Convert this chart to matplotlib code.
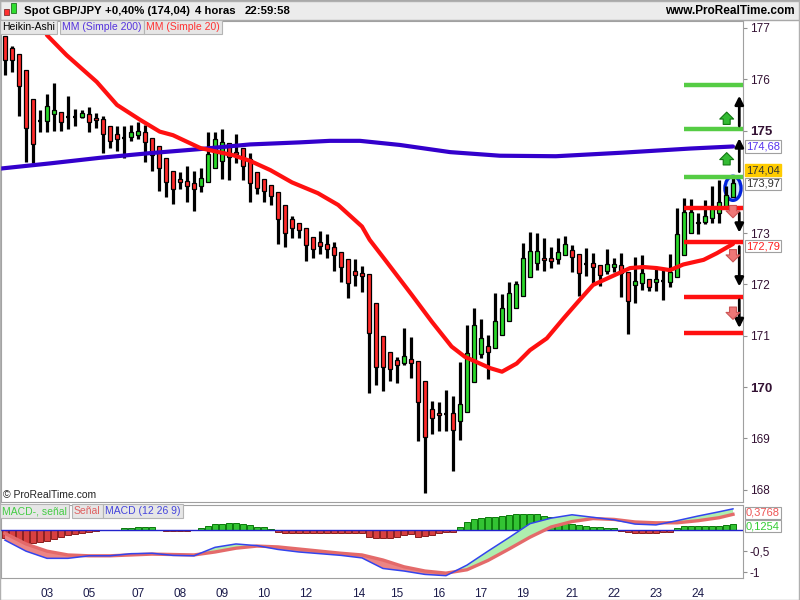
import numpy as np
import matplotlib
matplotlib.use("Agg")
import matplotlib.pyplot as plt
from matplotlib.patches import Rectangle, Ellipse

plt.rcParams['font.family'] = ['Liberation Sans', 'DejaVu Sans']

# Heikin-Ashi candles (4h), one row per bar
opens = [176.85, 176.60, 176.49, 176.18, 175.61, 175.20, 175.19, 175.32, 175.36, 175.28,
         175.28, 175.26, 175.32, 175.24, 175.22, 175.08, 174.93, 174.87, 174.87, 174.91,
         174.97, 174.86, 174.69, 174.47, 174.22, 174.06, 174.02, 173.97, 173.92, 173.99,
         174.27, 174.40, 174.75, 174.59, 174.67, 174.44, 174.20, 174.05, 173.93, 173.81,
         173.54, 173.27, 173.19, 173.11, 172.93, 172.82, 172.78, 172.73, 172.64, 172.49,
         172.26, 172.22, 172.20, 171.63, 171.00, 170.69, 170.53, 170.46, 170.54, 170.50,
         170.11, 169.57, 169.50, 169.49, 169.49, 169.33, 169.52, 170.09, 170.64, 170.80,
         170.76, 171.02, 171.29, 171.55, 171.78, 172.14, 172.41, 172.52, 172.51, 172.49,
         172.58, 172.67, 172.60, 172.42, 172.41, 172.38, 172.27, 172.34, 172.38, 172.25,
         171.99, 172.02, 172.11, 172.04, 172.08, 172.05, 172.15, 172.58, 173.00, 173.19,
         173.21, 173.29, 173.39, 173.52, 173.71]
highs = [176.85, 176.64, 176.49, 176.18, 175.61, 175.40, 175.71, 175.92, 175.36, 175.67,
         175.42, 175.40, 175.45, 175.34, 175.29, 175.08, 175.08, 175.08, 175.11, 175.16,
         175.11, 174.86, 174.69, 174.47, 174.22, 174.20, 174.31, 174.22, 174.27, 174.98,
         174.98, 175.03, 174.75, 174.93, 174.67, 174.56, 174.20, 174.05, 173.93, 173.81,
         173.54, 173.34, 173.19, 173.11, 172.93, 173.04, 172.98, 172.82, 172.64, 172.49,
         172.49, 172.36, 172.20, 171.63, 171.00, 170.69, 170.59, 171.15, 170.97, 170.50,
         170.11, 169.73, 169.70, 169.94, 169.83, 170.48, 171.21, 171.54, 171.33, 171.02,
         171.83, 171.81, 172.04, 172.07, 172.80, 173.02, 173.00, 172.90, 172.73, 172.90,
         172.95, 172.77, 172.60, 172.71, 172.61, 172.38, 172.69, 172.51, 172.61, 172.25,
         172.53, 172.58, 172.11, 172.30, 172.28, 172.59, 173.49, 173.68, 173.67, 173.39,
         173.65, 173.91, 174.04, 173.91, 174.07]
lows = [176.08, 176.15, 175.29, 174.39, 174.36, 174.98, 174.98, 174.99, 174.99, 175.03,
        175.08, 175.24, 174.98, 175.05, 174.57, 174.67, 174.61, 174.47, 174.80, 174.83,
        174.38, 174.22, 173.83, 173.70, 173.56, 173.86, 173.61, 173.44, 173.80, 173.99,
        174.27, 174.05, 174.04, 174.36, 174.04, 173.60, 173.76, 173.61, 173.54, 172.78,
        172.74, 172.91, 172.91, 172.46, 172.52, 172.59, 172.52, 172.27, 172.05, 171.73,
        171.98, 171.85, 169.89, 170.05, 169.93, 170.12, 170.07, 170.43, 170.17, 168.94,
        167.93, 169.08, 169.15, 169.15, 168.37, 168.96, 169.52, 170.09, 170.56, 170.16,
        170.76, 171.02, 171.29, 171.55, 171.78, 172.14, 172.28, 172.27, 172.32, 172.40,
        172.58, 172.24, 171.78, 172.17, 171.99, 171.98, 172.20, 172.24, 171.76, 171.04,
        171.63, 171.89, 171.88, 171.88, 171.70, 171.96, 172.15, 172.58, 173.00, 172.98,
        173.17, 173.19, 173.19, 173.52, 173.71]
closes = [176.38, 176.38, 175.86, 175.06, 174.73, 175.18, 175.48, 175.40, 175.16, 175.26,
          175.26, 175.34, 175.17, 175.20, 174.93, 174.80, 174.83, 174.85, 174.97, 175.00,
          174.77, 174.52, 174.27, 174.00, 173.86, 174.00, 173.91, 173.86, 174.07, 174.54,
          174.83, 174.78, 174.49, 174.54, 174.30, 173.97, 173.89, 173.82, 173.73, 173.27,
          173.00, 173.10, 173.06, 172.77, 172.69, 172.75, 172.69, 172.58, 172.34, 172.02,
          172.19, 172.17, 171.05, 170.39, 170.39, 170.35, 170.43, 170.61, 170.46, 169.70,
          169.03, 169.40, 169.46, 169.47, 169.16, 169.68, 170.66, 171.21, 170.95, 170.69,
          171.29, 171.54, 171.83, 172.00, 172.51, 172.66, 172.66, 172.47, 172.46, 172.64,
          172.79, 172.53, 172.22, 172.40, 172.34, 172.19, 172.39, 172.39, 172.22, 171.68,
          172.07, 172.22, 171.95, 172.11, 172.06, 172.25, 172.98, 173.41, 173.41, 173.22,
          173.34, 173.50, 173.61, 173.74, 173.97]

# moving averages (bar index, value)
ma200_idx = [-0.6, 6.4, 13.6, 20.7, 27.9, 35, 42.1, 46.4, 50.7, 56.4, 63.6, 70.7, 78.7, 88.3, 97.9, 104]
ma200_val = [174.26, 174.36, 174.47, 174.56, 174.64, 174.73, 174.77, 174.80, 174.80, 174.72,
             174.58, 174.51, 174.50, 174.57, 174.65, 174.69]
ma20_idx = [5.4, 6.0, 8.8, 13.1, 16.0, 19.3, 22.1, 24.0, 27.9, 30.2, 32.6, 35.0, 37.9, 41.0,
            44.7, 47.6, 51.0, 52.1, 54.3, 58.1, 61.0, 63.8, 65.7, 69.3, 71.0, 73.1, 75.0,
            77.4, 79.8, 82.1, 84.0, 86.4, 89.3, 91.2, 93.1, 95.0, 96.9, 99.8, 101.7, 104]
ma20_val = [177.20, 176.86, 176.47, 175.95, 175.50, 175.21, 174.98, 174.91, 174.66, 174.59,
            174.52, 174.41, 174.23, 173.99, 173.78, 173.55, 173.13, 172.87, 172.48, 171.80,
            171.27, 170.79, 170.59, 170.37, 170.30, 170.46, 170.72, 170.95, 171.34, 171.70,
            171.99, 172.14, 172.32, 172.34, 172.32, 172.28, 172.39, 172.48, 172.61, 172.79]

# target / stop levels drawn on the right
green_levels = [175.89, 175.04, 174.10]
red_levels = [173.49, 172.83, 171.76, 171.05]
arrow_from = [175.09, 174.20, 173.40, 172.74, 171.70]
arrow_to = [175.68, 174.85, 173.01, 171.96, 171.15]
up_marks = [175.24, 174.45]
down_marks = [173.42, 172.56, 171.44]

# MACD (12 26 9)
macd_idx = [0, 3, 6, 9, 12, 15, 18, 21, 24, 27, 30, 33, 36, 39, 42, 45, 48, 51, 54, 57,
            60, 63, 66, 69, 72, 75, 78, 81, 84, 87, 90, 93, 96, 99, 102, 104]
macd_line = [-0.24, -0.50, -0.67, -0.67, -0.61, -0.61, -0.56, -0.55, -0.60, -0.61,
             -0.41, -0.33, -0.37, -0.46, -0.52, -0.56, -0.60, -0.66, -0.91, -0.97,
             -1.05, -1.08, -0.83, -0.50, -0.18, 0.15, 0.28, 0.36, 0.30, 0.24,
             0.14, 0.12, 0.22, 0.33, 0.43, 0.50]
signal_line = [-0.08, -0.33, -0.50, -0.59, -0.61, -0.61, -0.59, -0.57, -0.58, -0.59,
               -0.52, -0.43, -0.38, -0.40, -0.45, -0.50, -0.55, -0.59, -0.71, -0.87,
               -0.97, -1.02, -0.94, -0.72, -0.45, -0.17, 0.07, 0.20, 0.27, 0.25,
               0.19, 0.17, 0.17, 0.22, 0.29, 0.37]
hist = [-0.18, -0.24, -0.28, -0.31, -0.31, -0.28, -0.25, -0.21, -0.16, -0.13,
        -0.09, -0.08, -0.05, -0.02, -0.01, 0.0, 0.01, 0.04, 0.05, 0.08,
        0.07, 0.06, 0.01, -0.02, -0.02, -0.02, -0.02, 0.0, 0.04, 0.10,
        0.13, 0.15, 0.16, 0.16, 0.13, 0.12, 0.08, 0.06, 0.03, -0.05,
        -0.08, -0.08, -0.08, -0.08, -0.08, -0.07, -0.06, -0.06, -0.06, -0.06,
        -0.06, -0.06, -0.16, -0.18, -0.20, -0.20, -0.16, -0.12, -0.10, -0.16,
        -0.14, -0.13, -0.06, -0.05, -0.04, 0.06, 0.20, 0.26, 0.28, 0.30,
        0.31, 0.34, 0.35, 0.38, 0.39, 0.39, 0.39, 0.34, 0.30, 0.26,
        0.20, 0.13, 0.12, 0.10, 0.08, 0.06, 0.04, 0.04, -0.02, -0.05,
        -0.08, -0.08, -0.08, -0.06, -0.05, -0.04, 0.04, 0.10, 0.10, 0.10,
        0.10, 0.10, 0.10, 0.12, 0.13]

date_pos = [6, 12, 19, 25, 31, 37, 43, 50.5, 56, 62, 68, 74, 81, 87, 93, 99]
date_labels = ["03", "05", "07", "08", "09", "10", "12", "14", "15", "16", "17", "19",
               "21", "22", "23", "24"]

W, H = 800, 600


def fx(px):
    return px / W


def fy(py):
    return 1 - py / H


fig = plt.figure(figsize=(8, 6), dpi=100)
fig.patch.set_facecolor("white")

# header band
fig.add_artist(Rectangle((0, fy(20)), 1, fy(0) - fy(20), transform=fig.transFigure,
                         facecolor="#ececec", edgecolor="#a8a8a8", lw=1))
fig.add_artist(Rectangle((fx(4), fy(15)), fx(5), fy(9) - fy(15), transform=fig.transFigure,
                         facecolor="#ff3030", edgecolor="#803030", lw=0.6))
fig.add_artist(Rectangle((fx(11), fy(13)), fx(5), fy(3) - fy(13), transform=fig.transFigure,
                         facecolor="#30dd30", edgecolor="#207020", lw=0.6))
for xp, s in [(24, "Spot GBP/JPY"), (105, "+0,40% (174,04)"), (195, "4 horas"), (245, "22:59:58")]:
    fig.text(fx(xp), fy(11), s, fontsize=8.2, fontweight="bold", va="center", ha="left")
fig.text(fx(795), fy(11), "www.ProRealTime.com", fontsize=8.5, fontweight="bold",
         va="center", ha="right")

ax = fig.add_axes([fx(1), fy(502), fx(743) - fx(1), fy(21) - fy(502)])
axm = fig.add_axes([fx(1), fy(578), fx(743) - fx(1), fy(505) - fy(578)])

xmin, xmax = -0.57, 105.43

# ---- price panel ----
x = np.arange(len(opens))
o = np.array(opens)
c = np.array(closes)
up = c > o + 0.02
down = c < o - 0.02
doji = ~(up | down)

ax.vlines(x, lows, highs, color="black", lw=2.3, zorder=2)
ax.bar(x[up], (c - o)[up], bottom=o[up], width=0.64, color="#29d829",
       edgecolor="black", lw=0.9, zorder=3)
ax.bar(x[down], (o - c)[down], bottom=c[down], width=0.64, color="#ff2a2a",
       edgecolor="black", lw=0.9, zorder=3)
ax.hlines(c[doji], x[doji] - 0.33, x[doji] + 0.33, color="black", lw=1.6, zorder=3)

ax.plot(ma200_idx, ma200_val, color="#3300cc", lw=3, zorder=4, solid_capstyle="round")
ax.plot(ma20_idx, ma20_val, color="#ff1010", lw=3, zorder=4, solid_capstyle="round")

ax.hlines(green_levels, 97.0, xmax, color="#55cc44", lw=3.2, zorder=5)
ax.hlines(red_levels, 97.0, xmax, color="#ff1010", lw=3.2, zorder=5)

for s, e in zip(arrow_from, arrow_to):
    ax.annotate("", xy=(104.9, e), xytext=(104.9, s), annotation_clip=False, zorder=6,
                arrowprops=dict(arrowstyle="-|>,head_length=0.5,head_width=0.25",
                                color="black", lw=2, shrinkA=0, shrinkB=0))
for p in up_marks:
    ax.annotate("", xy=(103.1, p + 0.12), xytext=(103.1, p - 0.12), zorder=6,
                arrowprops=dict(arrowstyle="simple,head_length=0.5,head_width=1.0,tail_width=0.5",
                                fc="#33bb33", ec="#117711", lw=0.8, mutation_scale=10,
                                shrinkA=0, shrinkB=0))
for p in down_marks:
    ax.annotate("", xy=(104.0, p - 0.12), xytext=(104.0, p + 0.12), zorder=6,
                arrowprops=dict(arrowstyle="simple,head_length=0.5,head_width=1.0,tail_width=0.5",
                                fc="#ee7777", ec="#cc5555", lw=0.8, mutation_scale=10,
                                shrinkA=0, shrinkB=0))

ax.add_patch(Ellipse((104, 173.875), 2.3, 0.47, facecolor="#cfe6ff", edgecolor="#0022dd",
                     lw=2.4, zorder=1.5))

ax.set_xlim(xmin, xmax)
ax.set_ylim(167.76, 177.136)
ax.set_xticks([])
ax.yaxis.tick_right()
yt = [168, 169, 170, 171, 172, 173, 175, 176, 177]
ax.set_yticks(yt)
ax.set_yticklabels([str(v) for v in yt])
for lab, v in zip(ax.get_yticklabels(), yt):
    lab.set_color("#331133")
    if v in (170, 175):
        lab.set_fontweight("bold")
        lab.set_fontsize(9.5)
    else:
        lab.set_fontsize(8.5)
ax.tick_params(axis="y", length=3, color="#909090", pad=2)
for sp in ax.spines.values():
    sp.set_color("#a0a0a0")

tr = ax.get_yaxis_transform()
box = dict(boxstyle="square,pad=0.1", facecolor="white", edgecolor="#a0a0a0", lw=0.8)
ax.annotate("174,68", xy=(1, 174.69), xycoords=tr, xytext=(2, 0), textcoords="offset points",
            fontsize=8, color="#5533ee", va="center", ha="left", bbox=box,
            annotation_clip=False, zorder=8)
ax.annotate("174,04", xy=(1, 174.04), xycoords=tr, xytext=(2, 7), textcoords="offset points",
            fontsize=8, color="#333333", va="center", ha="left",
            bbox=dict(boxstyle="square,pad=0.1", facecolor="#ffcc00", edgecolor="#ffcc00"),
            annotation_clip=False, zorder=8)
ax.annotate("173,97", xy=(1, 173.96), xycoords=tr, xytext=(2, 0), textcoords="offset points",
            fontsize=8, color="#333333", va="center", ha="left", bbox=box,
            annotation_clip=False, zorder=9)
ax.annotate("172,79", xy=(1, 172.80), xycoords=tr, xytext=(2, -2), textcoords="offset points",
            fontsize=8, color="#ff2020", va="center", ha="left", bbox=box,
            annotation_clip=False, zorder=8)

# legends
leg = dict(boxstyle="square,pad=0.2", facecolor="#e6e6e6", edgecolor="#b4b4b4", lw=0.8)
fig.text(fx(2), fy(27), "Heikin-Ashi", fontsize=7.5, color="black", va="center", bbox=leg)
fig.text(fx(62), fy(27), "MM (Simple 200)", fontsize=7.5, color="#5533dd", va="center", bbox=leg)
fig.text(fx(146), fy(27), "MM (Simple 20)", fontsize=7.5, color="#ff3333", va="center", bbox=leg)
fig.text(fx(3), fy(495), "\u00a9 ProRealTime.com", fontsize=7.5, color="#222222", va="center")

# ---- MACD panel ----
h = np.array(hist)
hcol = np.where(h >= 0, "#33c433", "#d84040")
hedge = np.where(h >= 0, "#0a7a0a", "#8a1f1f")
axm.bar(x, h, width=0.8, color=hcol, edgecolor=hedge, lw=0.7, zorder=2)
axm.axhline(0, color="#2222cc", lw=1, zorder=3)

g = np.array(macd_idx)
m = np.array(macd_line)
s = np.array(signal_line)
axm.fill_between(g, m, s, where=m >= s, interpolate=True, color="#aeeeae", lw=0, zorder=4)
axm.fill_between(g, m, s, where=m < s, interpolate=True, color="#ec8585", lw=0, zorder=4)
axm.plot(g, s, color="#e46a6a", lw=2.4, zorder=5)
axm.plot(g, m, color="#3344ee", lw=1.1, zorder=6)

axm.set_xlim(xmin, xmax)
axm.set_ylim(-1.135, 0.591)
axm.yaxis.tick_right()
axm.set_yticks([-1, -0.5])
axm.set_yticklabels(["-1", "-0,5"], fontsize=8.5, color="#331133")
axm.tick_params(axis="y", length=3, color="#909090", pad=2)
axm.set_xticks(date_pos)
axm.set_xticklabels(date_labels, fontsize=8.5, color="#1a1a4a")
axm.tick_params(axis="x", length=0, pad=7)
for sp in axm.spines.values():
    sp.set_color("#a0a0a0")

trm = axm.get_yaxis_transform()
axm.annotate("0,3768", xy=(1, 0.3768), xycoords=trm, xytext=(2, 1), textcoords="offset points",
             fontsize=8, color="#ee5555", va="center", ha="left", bbox=box,
             annotation_clip=False)
axm.annotate("0,1254", xy=(1, 0.1254), xycoords=trm, xytext=(2, -1), textcoords="offset points",
             fontsize=8, color="#33cc33", va="center", ha="left", bbox=box,
             annotation_clip=False)

fig.text(fx(2), fy(511), "MACD-, se\u00f1al", fontsize=7.5, color="#44cc44", va="center", bbox=leg)
fig.text(fx(74), fy(511), "Se\u00f1al", fontsize=7.5, color="#e06060", va="center", bbox=leg)
fig.text(fx(105), fy(511), "MACD (12 26 9)", fontsize=7.5, color="#4444dd", va="center", bbox=leg)

fig.add_artist(Rectangle((0, 0), 1 - 1 / W, 1 - 1 / H, transform=fig.transFigure,
                         fill=False, edgecolor="#b0b0b0", lw=1))

fig.savefig("out.png", dpi=100)
